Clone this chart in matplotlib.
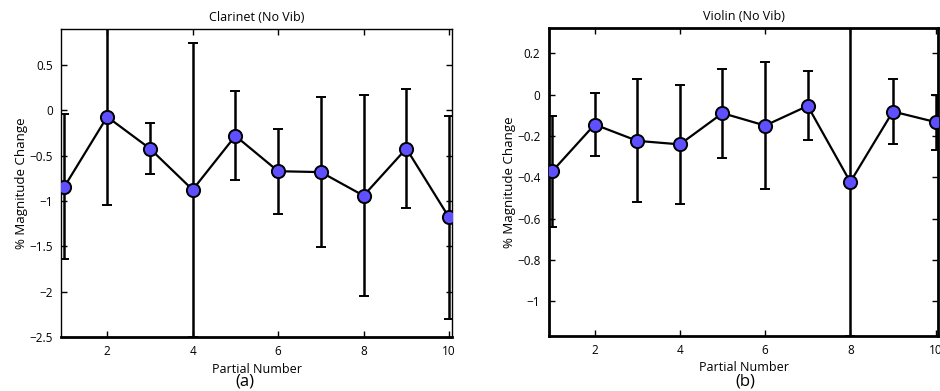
import matplotlib
matplotlib.use('Agg')
import matplotlib.pyplot as plt

plt.rcParams['font.family'] = ['Open Sans', 'DejaVu Sans']

# Partial numbers shared by both instruments
partials = [1, 2, 3, 4, 5, 6, 7, 8, 9, 10]

# Clarinet (no vibrato): mean % magnitude change and symmetric error
clarinet_mean = [-0.84, -0.07, -0.42, -0.875, -0.28, -0.67, -0.68, -0.94, -0.42, -1.18]
clarinet_err = [0.80, 0.97, 0.28, 1.625, 0.49, 0.47, 0.83, 1.11, 0.655, 1.12]

# Violin (no vibrato)
violin_mean = [-0.372, -0.145, -0.224, -0.241, -0.090, -0.150, -0.055, -0.423, -0.082, -0.133]
violin_err = [0.27, 0.152, 0.297, 0.289, 0.216, 0.307, 0.167, 0.745, 0.158, 0.133]

x_ticks = [2, 4, 6, 8, 10]
clarinet_yticks = [-2.5, -2, -1.5, -1, -0.5, 0, 0.5]
violin_yticks = [-1, -0.8, -0.6, -0.4, -0.2, 0, 0.2]

MARKER_COLOR = '#5f50ff'


def fmt_tick(v):
    return ('%g' % v).replace('-', '\u2212')


def draw_panel(fig, ax, mean, err, yticks, title, letter, letter_x, spine_w):
    ax.errorbar(partials, mean, yerr=err, color='black', linewidth=1.6,
                elinewidth=1.8, capsize=3.5, capthick=1.8,
                marker='o', markersize=9.5, markerfacecolor=MARKER_COLOR,
                markeredgecolor='black', markeredgewidth=1.4, zorder=3)

    # tight limits around the error bars
    lows = [m - e for m, e in zip(mean, err)]
    highs = [m + e for m, e in zip(mean, err)]
    ax.set_ylim(min(lows), max(highs))
    ax.set_xlim(0.92, 10.07)

    ax.set_xticks(x_ticks)
    ax.set_xticklabels([fmt_tick(t) for t in x_ticks])
    ax.set_yticks(yticks)
    ax.set_yticklabels([fmt_tick(t) for t in yticks])
    ax.tick_params(direction='in', length=4, width=1, top=True, right=True,
                   labelsize=8.5, pad=6)
    for sp in ax.spines.values():
        sp.set_linewidth(spine_w)
    ax.spines['bottom'].set_linewidth(2)

    ax.set_title(title, fontsize=9, pad=6)
    ax.set_xlabel('Partial Number', fontsize=9, labelpad=3)
    ax.set_ylabel('% Magnitude Change', fontsize=9.5, labelpad=1)

    fig.text(letter_x, 0.024, letter, ha='center', va='center', fontsize=12)


fig = plt.figure(figsize=(9.4, 3.91), dpi=100)
ax1 = fig.add_axes([0.0649, 0.138, 0.416, 0.788])
ax2 = fig.add_axes([0.5837, 0.1407, 0.4147, 0.7877])

draw_panel(fig, ax1, clarinet_mean, clarinet_err, clarinet_yticks,
           'Clarinet (No Vib)', '(a)', 0.261, 1.0)
draw_panel(fig, ax2, violin_mean, violin_err, violin_yticks,
           'Violin (No Vib)', '(b)', 0.793, 2.0)

fig.savefig('out.png', dpi=100, facecolor='white')
